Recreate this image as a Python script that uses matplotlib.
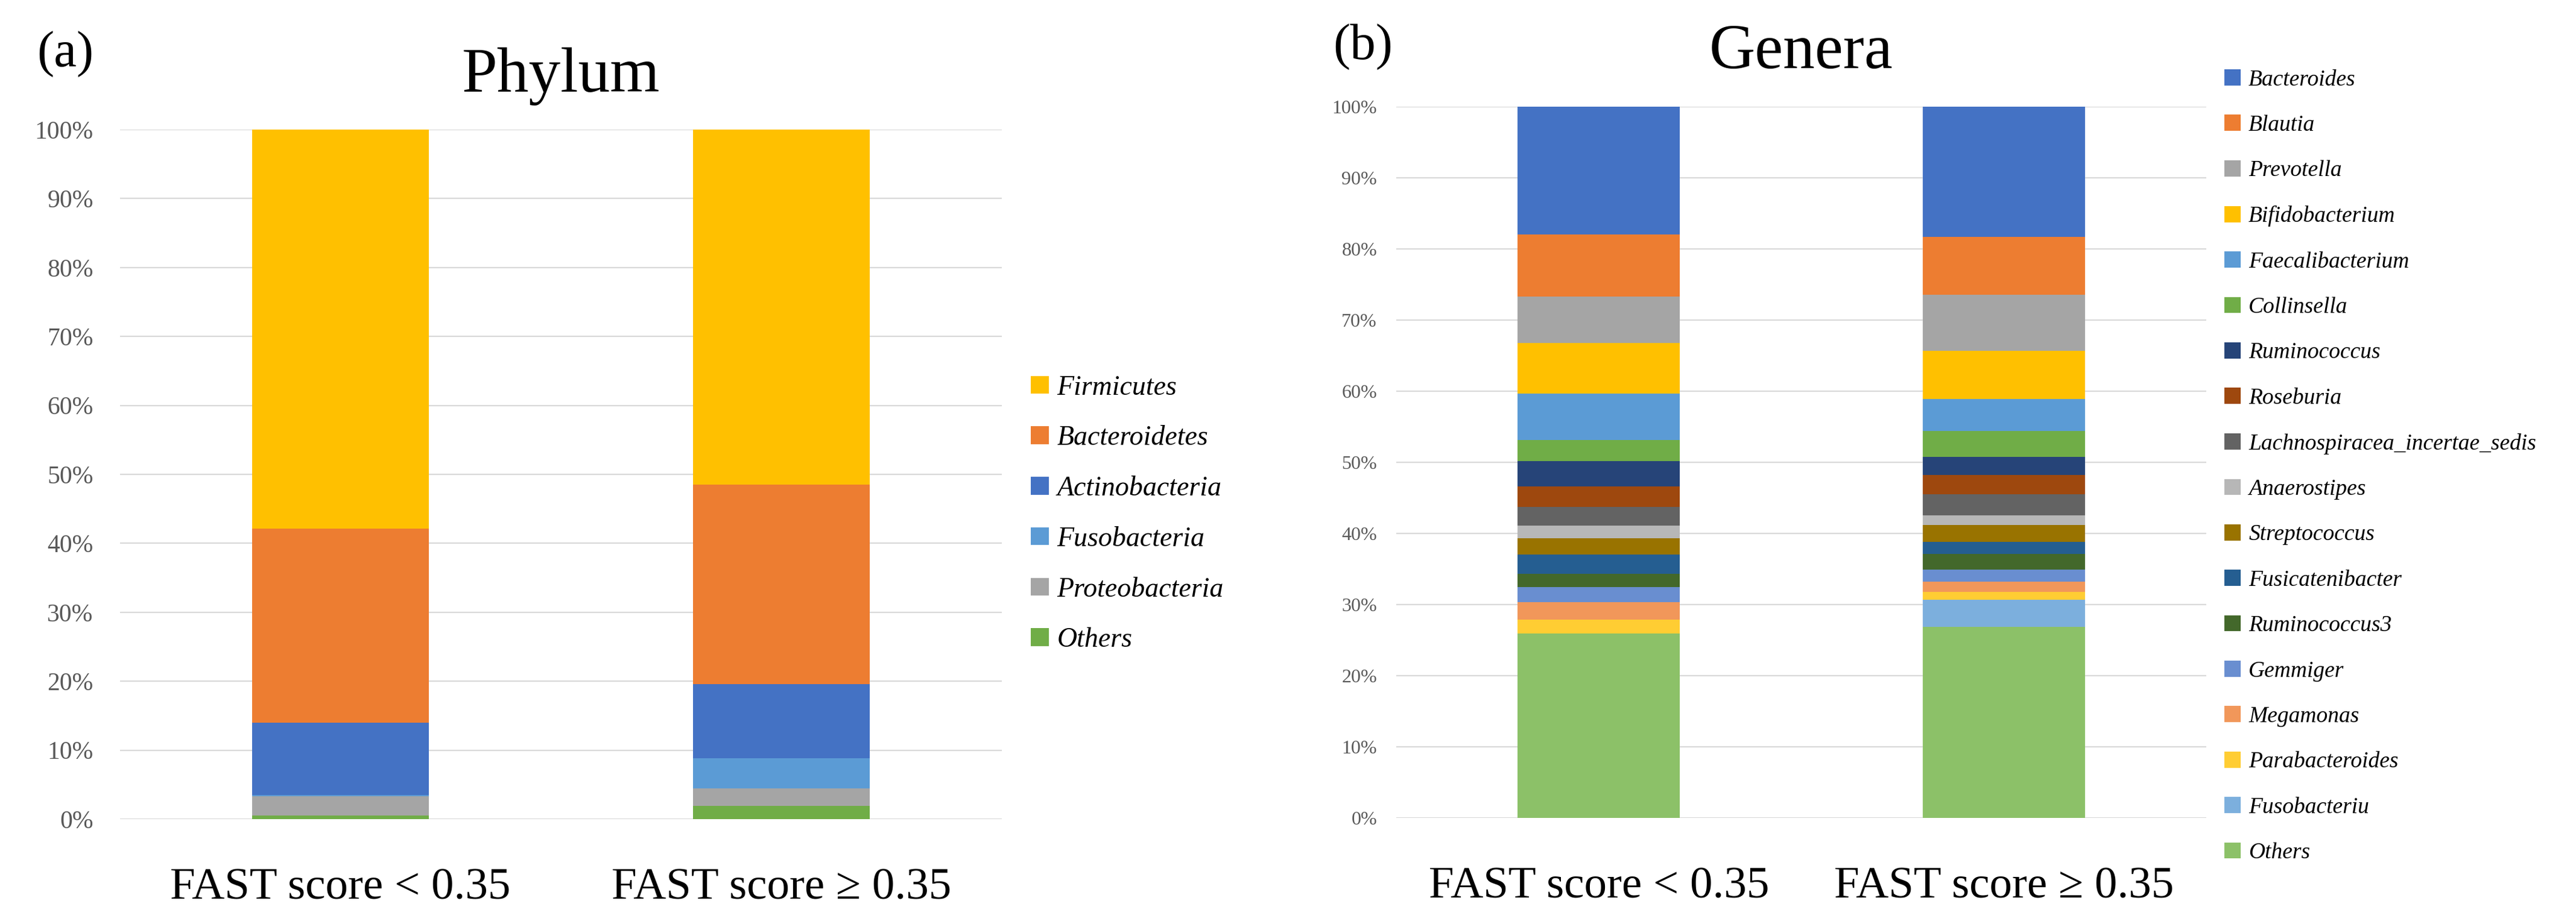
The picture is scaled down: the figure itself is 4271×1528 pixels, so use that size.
import numpy as np
import matplotlib
matplotlib.use("Agg")
import matplotlib.pyplot as plt

plt.rcParams['font.family'] = ['Liberation Serif', 'DejaVu Serif']

# data (percent), listed top of stack first, as in the legends
groups = ['FAST score < 0.35', 'FAST score \u2265 0.35']
yticks = [0, 10, 20, 30, 40, 50, 60, 70, 80, 90, 100]
ytick_labels = ['%d%%' % t for t in yticks]

phyla = ['Firmicutes', 'Bacteroidetes', 'Actinobacteria', 'Fusobacteria',
         'Proteobacteria', 'Others']
phylum_low = [57.9, 28.1, 10.5, 0.2, 2.8, 0.5]
phylum_high = [51.5, 28.9, 10.8, 4.3, 2.6, 1.9]
phylum_colors = ['#FFC000', '#ED7D31', '#4472C4', '#5B9BD5', '#A5A5A5', '#70AD47']

genera = ['Bacteroides', 'Blautia', 'Prevotella', 'Bifidobacterium',
          'Faecalibacterium', 'Collinsella', 'Ruminococcus', 'Roseburia',
          'Lachnospiracea_incertae_sedis', 'Anaerostipes', 'Streptococcus',
          'Fusicatenibacter', 'Ruminococcus3', 'Gemmiger', 'Megamonas',
          'Parabacteroides', 'Fusobacteriu', 'Others']
genus_low = [17.95, 8.75, 6.5, 7.1, 6.6, 2.9, 3.6, 2.9, 2.6, 1.75, 2.35,
             2.7, 1.85, 2.15, 2.45, 1.9, 0.0, 25.95]
genus_high = [18.3, 8.1, 7.9, 6.8, 4.5, 3.6, 2.55, 2.75, 3.0, 1.3, 2.4,
              1.7, 2.15, 1.75, 1.4, 1.1, 3.8, 26.9]
genus_colors = ['#4472C4', '#ED7D31', '#A5A5A5', '#FFC000', '#5B9BD5',
                '#70AD47', '#264478', '#9E480E', '#636363', '#B7B7B7',
                '#997300', '#255E91', '#43682B', '#698ED0', '#F1975A',
                '#FFCD33', '#7CAFDD', '#8CC168']

W, H = 4271, 1528
fig = plt.figure(figsize=(W / 100, H / 100), dpi=100)


def stacked(ax, names, low, high, colors, tick_size, pad):
    x = np.arange(len(groups))
    vals = np.array([low, high]).T / 100.0
    bottom = np.zeros(len(groups))
    handles = {}
    # draw from the bottom of the stack (last name) upwards
    for i in range(len(names) - 1, -1, -1):
        b = ax.bar(x, vals[i], 0.4, bottom=bottom, color=colors[i],
                   linewidth=0, zorder=3, label=names[i])
        handles[names[i]] = b
        bottom += vals[i]
    ax.set_xlim(-0.5, 1.5)
    ax.set_ylim(0, 1)
    ax.set_yticks(np.array(yticks) / 100.0)
    ax.set_yticklabels(ytick_labels)
    ax.set_xticks(x)
    ax.set_xticklabels(groups)
    ax.grid(axis='y', color='#D9D9D9', linewidth=1.6, zorder=0)
    for s in ax.spines.values():
        s.set_visible(False)
    ax.tick_params(axis='y', length=0, labelsize=tick_size, labelcolor='#595959', pad=pad)
    ax.tick_params(axis='x', length=0, labelsize=54, labelcolor='black', pad=58)
    return [handles[n] for n in names]


# (a) Phylum
axa = fig.add_axes([199 / W, 1 - 1359 / H, 1462 / W, (1359 - 215) / H])
ha = stacked(axa, phyla, phylum_low, phylum_high, phylum_colors, 30, 32)
fig.text(930 / W, 1 - 152 / H, 'Phylum', fontsize=76, ha='center', va='baseline')
fig.text(61 / W, 1 - 90 / H, '(a)', fontsize=61, ha='left', va='center')
leg_a = fig.legend(ha, phyla, loc='upper left', bbox_to_anchor=(1709 / W, 1 - 622 / H),
                   bbox_transform=fig.transFigure, frameon=False, borderpad=0,
                   borderaxespad=0, handlelength=0.65, handleheight=0.62,
                   handletextpad=0.3, labelspacing=0.9,
                   prop={'style': 'italic', 'size': 33})

# (b) Genera
axb = fig.add_axes([2315 / W, 1 - 1357 / H, 1343 / W, (1357 - 177) / H])
hb = stacked(axb, genera, genus_low, genus_high, genus_colors, 23, 23)
fig.text(2986 / W, 1 - 113 / H, 'Genera', fontsize=76, ha='center', va='baseline')
fig.text(2210 / W, 1 - 77 / H, '(b)', fontsize=61, ha='left', va='center')
leg_b = fig.legend(hb, genera, loc='upper left', bbox_to_anchor=(3688 / W, 1 - 115 / H),
                   bbox_transform=fig.transFigure, frameon=False, borderpad=0,
                   borderaxespad=0, handlelength=0.72, handleheight=0.72,
                   handletextpad=0.35, labelspacing=1.09,
                   prop={'style': 'italic', 'size': 27})

fig.savefig('out.png', dpi=100)
